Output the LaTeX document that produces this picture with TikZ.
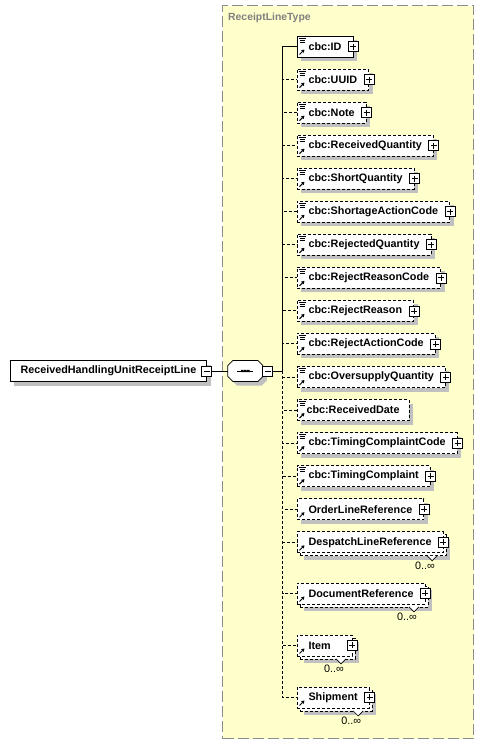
\documentclass[tikz,border=0pt]{standalone}
\usepackage{fontspec}
\setmainfont{Liberation Sans}
\usepackage{xcolor}
\usetikzlibrary{arrows.meta,positioning,shadows}
\definecolor{typefill}{RGB}{255,255,204}
\definecolor{typeline}{RGB}{140,140,140}
\definecolor{typetext}{RGB}{128,128,128}
\definecolor{shadowgray}{RGB}{192,192,192}
\tikzset{
  typebox/.style={draw=typeline,fill=typefill,line width=1.2pt,dash pattern=on 11pt off 4pt,inner sep=0pt},
  typelabel/.style={text=typetext,font=\bfseries\fontsize{10.4}{12}\selectfont,inner sep=0pt},
  elembox/.style={draw=black,fill=white,minimum height=21pt,inner xsep=11.5pt,inner ysep=0pt,outer sep=0pt,
    line width=0.8pt,font=\bfseries\fontsize{10.8}{13}\selectfont},
  onebox/.style={elembox,general shadow={fill=shadowgray,shadow xshift=4pt,shadow yshift=-4pt}},
  optbox/.style={onebox,dash pattern=on 3pt off 2pt},
  multibox/.style={elembox,dash pattern=on 3pt off 2pt,
    general shadow={fill=shadowgray,shadow xshift=7pt,shadow yshift=-7pt},
    general shadow={draw=black,fill=white,line width=0.8pt,dash pattern=on 3pt off 2pt,
      shadow xshift=3pt,shadow yshift=-3pt}},
  mainbox/.style={onebox,inner xsep=10.5pt,label={[minusbtn,label distance=-5pt,name=mainminus]right:}},
  cbcicons/.style={path picture={
    \draw[solid,line width=0.7pt]
      ([xshift=1.5pt,yshift=-2pt]path picture bounding box.north west) -- ++(7pt,0pt)
      ([xshift=2.5pt,yshift=-4pt]path picture bounding box.north west) -- ++(5pt,0pt)
      ([xshift=2.5pt,yshift=-6pt]path picture bounding box.north west) -- ++(5pt,0pt);
    \draw[solid,line width=1pt,-{Triangle[length=3pt,width=3.5pt]}]
      ([xshift=2.5pt,yshift=2.5pt]path picture bounding box.south west) -- ++(5pt,5pt);}},
  reficon/.style={path picture={
    \draw[solid,line width=1pt,-{Triangle[length=3pt,width=3.5pt]}]
      ([xshift=2.5pt,yshift=2.5pt]path picture bounding box.south west) -- ++(5pt,5pt);}},
  plusbtn/.style={draw=black,solid,fill=white,line width=0.7pt,minimum size=10pt,inner sep=0pt,
    path picture={\draw[solid,line width=0.8pt]
      ([xshift=2pt]path picture bounding box.west) -- ([xshift=-2pt]path picture bounding box.east)
      ([yshift=-2pt]path picture bounding box.north) -- ([yshift=2pt]path picture bounding box.south);}},
  minusbtn/.style={draw=black,solid,fill=white,line width=0.7pt,minimum size=10pt,inner sep=0pt,outer sep=0pt,
    path picture={\draw[solid,line width=0.8pt]
      ([xshift=2pt]path picture bounding box.west) -- ([xshift=-2pt]path picture bounding box.east);}},
  withplus/.style={label={[plusbtn,label distance=-5pt]right:}},
  seqbox/.style={minimum width=35pt,minimum height=21pt,inner sep=0pt,outer sep=0pt},
  seqframe/.style={draw=black,fill=white,line width=0.8pt,
    general shadow={fill=shadowgray,shadow xshift=4pt,shadow yshift=-4pt}},
  multlabel/.style={font=\fontsize{10.8}{13}\selectfont,inner sep=0pt},
  notch/.style={draw=black,fill=white,line width=0.7pt},
  reqline/.style={draw=black,line width=1pt},
  optline/.style={draw=black,line width=1pt,dash pattern=on 3pt off 2pt}
}
\begin{document}
\begin{tikzpicture}[x=1pt,y=-1pt,node distance=12.05pt]
  \useasboundingbox (0,0) rectangle (484,744);
  \node[typebox,minimum width=251pt,minimum height=733pt,anchor=north west] (rlt) at (222,5) {};
  \node[typelabel,anchor=west] (rltname) at ([xshift=6pt,yshift=-12.5pt]rlt.north west) {ReceiptLineType};

  % element and its sequence
  \node[mainbox,anchor=west] (main) at (10,371) {ReceivedHandlingUnitReceiptLine};
  \node[seqbox,right=21pt of main] (seq) {};
  \draw[seqframe] ([xshift=5pt]seq.north west) -- ([xshift=-5pt]seq.north east) -- ([yshift=-5pt]seq.north east)
    -- ([yshift=5pt]seq.south east) -- ([xshift=-5pt]seq.south east) -- ([xshift=5pt]seq.south west)
    -- ([yshift=5pt]seq.south west) -- ([yshift=-5pt]seq.north west) -- cycle;
  \draw[line width=1pt] ([xshift=-8pt]seq.center) -- ([xshift=8pt]seq.center);
  \fill ([xshift=-4.2pt,yshift=-1.2pt]seq.center) rectangle ++(2.4pt,2.4pt)
    ([xshift=-1.2pt,yshift=-1.2pt]seq.center) rectangle ++(2.4pt,2.4pt)
    ([xshift=1.8pt,yshift=-1.2pt]seq.center) rectangle ++(2.4pt,2.4pt);
  \node[minusbtn,right=0pt of seq] (seqminus) {};
  \coordinate[right=20pt of seq.east] (spine);

  % children of ReceiptLineType
  \node[onebox,cbcicons,withplus,anchor=west] (id) at (297,46.5) {cbc:ID};
  \node[optbox,cbcicons,withplus,below=of id.south west,anchor=north west] (uuid) {cbc:UUID};
  \node[optbox,cbcicons,withplus,below=of uuid.south west,anchor=north west] (note) {cbc:Note};
  \node[optbox,cbcicons,withplus,below=of note.south west,anchor=north west] (rq) {cbc:ReceivedQuantity};
  \node[optbox,cbcicons,withplus,below=of rq.south west,anchor=north west] (sq) {cbc:ShortQuantity};
  \node[optbox,cbcicons,withplus,below=of sq.south west,anchor=north west] (sac) {cbc:ShortageActionCode};
  \node[optbox,cbcicons,withplus,below=of sac.south west,anchor=north west] (rejq) {cbc:RejectedQuantity};
  \node[optbox,cbcicons,withplus,below=of rejq.south west,anchor=north west] (rrc) {cbc:RejectReasonCode};
  \node[optbox,cbcicons,withplus,below=of rrc.south west,anchor=north west] (rr) {cbc:RejectReason};
  \node[optbox,cbcicons,withplus,below=of rr.south west,anchor=north west] (rac) {cbc:RejectActionCode};
  \node[optbox,cbcicons,withplus,below=of rac.south west,anchor=north west] (osq) {cbc:OversupplyQuantity};
  \node[optbox,cbcicons,inner xsep=9.5pt,below=of osq.south west,anchor=north west] (rd) {cbc:ReceivedDate};
  \node[optbox,cbcicons,withplus,below=of rd.south west,anchor=north west] (tcc) {cbc:TimingComplaintCode};
  \node[optbox,cbcicons,withplus,below=of tcc.south west,anchor=north west] (tc) {cbc:TimingComplaint};
  \node[optbox,reficon,withplus,below=of tc.south west,anchor=north west] (olr) {OrderLineReference};
  \node[multibox,reficon,withplus,below=of olr.south west,anchor=north west] (dlr) {DespatchLineReference};
  \node[multibox,reficon,withplus,below=30.2pt of dlr.south west,anchor=north west] (dr) {DocumentReference};
  \node[multibox,reficon,withplus,text width=32pt,align=left,below=31pt of dr.south west,anchor=north west] (item) {Item};
  \node[multibox,reficon,withplus,below=31pt of item.south west,anchor=north west] (ship) {Shipment};

  % occurrence marks
  \draw[notch] ([xshift=-16pt,yshift=-3pt]dlr.south east) -- ++(5pt,-5pt) -- ++(5pt,5pt);
  \draw[notch] ([xshift=-16pt,yshift=-3pt]dr.south east) -- ++(5pt,-5pt) -- ++(5pt,5pt);
  \draw[notch] ([xshift=-16pt,yshift=-3pt]item.south east) -- ++(5pt,-5pt) -- ++(5pt,5pt);
  \draw[notch] ([xshift=-16pt,yshift=-3pt]ship.south east) -- ++(5pt,-5pt) -- ++(5pt,5pt);
  \node[multlabel] (dlrocc) at ([xshift=-18pt,yshift=-13pt]dlr.south east) {0..∞};
  \node[multlabel] (drocc) at ([xshift=-18pt,yshift=-13pt]dr.south east) {0..∞};
  \node[multlabel] (itemocc) at ([xshift=-18pt,yshift=-13pt]item.south east) {0..∞};
  \node[multlabel] (shipocc) at ([xshift=-18pt,yshift=-13pt]ship.south east) {0..∞};

  % connectors
  \draw[reqline] (mainminus) -- (seq);
  \draw[reqline] (seqminus) -- (spine);
  \draw[reqline] (spine) |- (id);
  \draw[optline] (spine) |- (uuid) (spine) |- (note) (spine) |- (rq) (spine) |- (sq)
    (spine) |- (sac) (spine) |- (rejq) (spine) |- (rrc) (spine) |- (rr) (spine) |- (rac);
  \draw[optline] (spine) |- (osq) (spine) |- (rd) (spine) |- (tcc) (spine) |- (tc)
    (spine) |- (olr) (spine) |- (dlr) (spine) |- (dr) (spine) |- (item) (spine) |- (ship);
\end{tikzpicture}
\end{document}
